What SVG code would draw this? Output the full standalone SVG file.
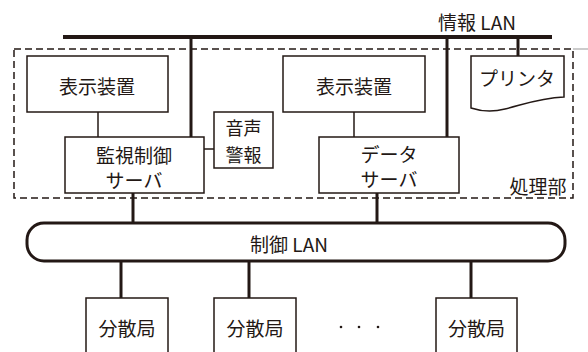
<svg xmlns="http://www.w3.org/2000/svg" width="588" height="352" viewBox="0 0 588 352">
<style>
text{font-family:"Noto Sans CJK JP","Noto Sans",sans-serif;font-size:19px;fill:#231815;text-anchor:middle;dominant-baseline:central}
.box{fill:#fff;stroke:#231815;stroke-width:1.5}
.thick{stroke:#231815;stroke-width:3;fill:none}
.thin{stroke:#231815;stroke-width:1.5;fill:none}
.sm{font-size:18px}
</style>
<rect width="588" height="352" fill="#fff"/>
<g id="processing">
<rect x="14" y="49" width="559" height="149" fill="none" stroke="#231815" stroke-width="1.5" stroke-dasharray="7,4"/>
<line x1="573" y1="49" x2="588" y2="49" stroke="#999" stroke-width="1"/>
<text x="538" y="185">処理部</text>
</g>
<g id="connectors">
<line x1="63" y1="37" x2="552" y2="37" stroke="#231815" stroke-width="4"/>
<line class="thick" x1="191" y1="37" x2="191" y2="137"/>
<line class="thick" x1="447" y1="37" x2="447" y2="137"/>
<line class="thick" x1="518" y1="37" x2="518" y2="56"/>
<line class="thin" x1="98" y1="112" x2="98" y2="137"/>
<line class="thin" x1="354" y1="112" x2="354" y2="137"/>
<line class="thin" x1="204" y1="149" x2="214" y2="149"/>
<line class="thick" x1="133" y1="193" x2="133" y2="223"/>
<line class="thick" x1="377" y1="193" x2="377" y2="223"/>
<line class="thick" x1="121" y1="261" x2="121" y2="298"/>
<line class="thick" x1="249" y1="261" x2="249" y2="298"/>
<line class="thick" x1="471" y1="261" x2="471" y2="298"/>
</g>
<g id="info-lan-label"><text x="477" y="21">情報 LAN</text></g>
<g id="display1"><rect class="box" x="27" y="56" width="141" height="56"/><text x="97" y="85">表示装置</text></g>
<g id="display2"><rect class="box" x="283" y="56" width="142" height="56"/><text x="354" y="85">表示装置</text></g>
<g id="printer"><path class="box" d="M471,56 H564 V97 C540,98 525,104 505,109 C490,113 480,111 471,108 Z"/><text x="517" y="77">プリンタ</text></g>
<g id="monitor-server"><rect class="box" x="65" y="137" width="139" height="56"/><text x="134" y="154">監視制御</text><text x="134" y="179">サーバ</text></g>
<g id="alarm"><rect class="box" x="214" y="112" width="59" height="56"/><text class="sm" x="243.5" y="127">音声</text><text class="sm" x="243.5" y="153.5">警報</text></g>
<g id="data-server"><rect class="box" x="319" y="137" width="140" height="56"/><text x="389" y="153">データ</text><text x="389" y="178">サーバ</text></g>
<g id="control-lan"><rect x="27" y="223" width="538" height="38" rx="17" ry="17" fill="#fff" stroke="#231815" stroke-width="3"/><text x="289" y="243">制御 LAN</text></g>
<g id="station1"><rect class="box" x="86" y="298" width="82" height="60"/><text x="127" y="327">分散局</text></g>
<g id="station2"><rect class="box" x="214" y="298" width="82" height="60"/><text x="255" y="327">分散局</text></g>
<g id="dots"><circle cx="341" cy="327" r="1.3" fill="#231815"/><circle cx="359" cy="327" r="1.3" fill="#231815"/><circle cx="378" cy="327" r="1.3" fill="#231815"/></g>
<g id="station3"><rect class="box" x="436" y="298" width="81" height="60"/><text x="476.5" y="327">分散局</text></g>
</svg>
